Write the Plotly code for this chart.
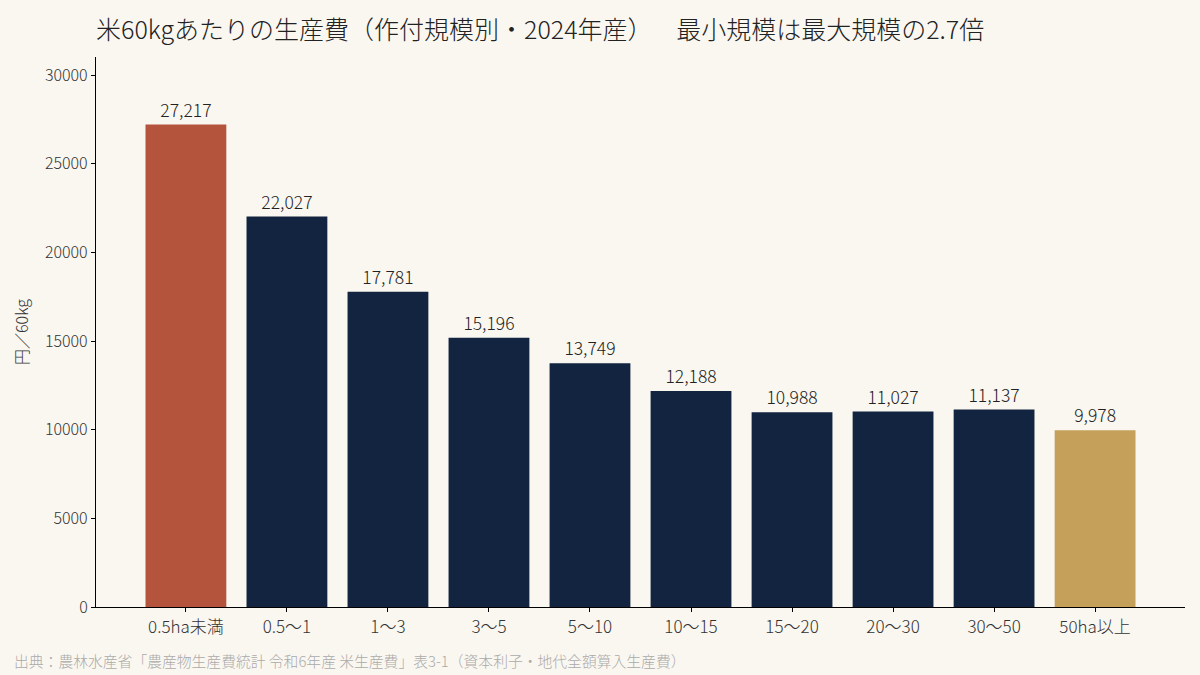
"""Rice production cost per 60kg by planted area (2024)."""

import plotly.graph_objects as go

CATEGORIES = ["0.5ha未満", "0.5〜1", "1〜3", "3〜5", "5〜10",
              "10〜15", "15〜20", "20〜30", "30〜50", "50ha以上"]
COSTS = [27217, 22027, 17781, 15196, 13749, 12188, 10988, 11027, 11137, 9978]

TITLE = "米60kgあたりの生産費（作付規模別・2024年産）\u3000\u00a0\u00a0最小規模は最大規模の2.7倍"
Y_TITLE = "円／60kg"
SOURCE = "出典：農林水産省「農産物生産費統計 令和6年産 米生産費」表3-1（資本利子・地代全額算入生産費）"

RED = "#b5543c"
NAVY = "#12243f"
GOLD = "#c4a05a"
BG = "#faf7f1"
FONT = "Noto Sans CJK JP"

colors = [NAVY] * len(COSTS)
colors[0] = RED
colors[-1] = GOLD

fig = go.Figure(
    go.Bar(
        x=list(range(len(CATEGORIES))),
        y=COSTS,
        width=0.8,
        marker=dict(color=colors, line=dict(width=0)),
        text=[f"{v:,}" for v in COSTS],
        textposition="outside",
        textfont=dict(size=17.5, color="#222222", weight=300),
        cliponaxis=False,
    )
)

fig.update_layout(
    width=1200,
    height=675,
    paper_bgcolor=BG,
    plot_bgcolor=BG,
    font=dict(family=FONT, size=16, color="#333333", weight=300),
    margin=dict(l=96, r=15, t=57, b=68, autoexpand=False),
    showlegend=False,
    bargap=0.2,
    title=dict(
        text=TITLE,
        x=96 / 1200,
        xanchor="left",
        y=1 - 30 / 675,
        yanchor="middle",
        font=dict(size=25, color="#222222", weight=300),
    ),
    annotations=[
        dict(
            text=SOURCE,
            xref="paper",
            yref="paper",
            x=-84 / 1089,
            y=-53 / 550,
            xanchor="left",
            yanchor="middle",
            showarrow=False,
            font=dict(size=14.8, color="#aaaaaa", weight=300),
        )
    ],
)

fig.update_xaxes(
    tickmode="array",
    tickvals=list(range(len(CATEGORIES))),
    ticktext=CATEGORIES,
    range=[-0.89, 9.89],
    showline=True,
    linecolor="#000000",
    linewidth=1.2,
    ticks="outside",
    ticklen=4,
    tickcolor="#000000",
    showgrid=False,
    zeroline=False,
    tickfont=dict(size=17, color="#333333", weight=300),
)

fig.update_yaxes(
    range=[0, 27217 * 1.14],
    tickvals=[0, 5000, 10000, 15000, 20000, 25000, 30000],
    tickformat="d",
    showline=True,
    linecolor="#000000",
    linewidth=1.2,
    ticks="outside",
    ticklen=4,
    tickcolor="#000000",
    showgrid=False,
    zeroline=False,
    tickfont=dict(size=16, color="#333333", weight=300),
    title=dict(text=Y_TITLE, font=dict(size=16, color="#333333", weight=300),
               standoff=12),
)

# the page body has a default 8px margin; drop it so the chart sits at 0,0
fig.write_html("out.html",
               config={"displayModeBar": False},
               post_script="document.body.style.margin='0';")
